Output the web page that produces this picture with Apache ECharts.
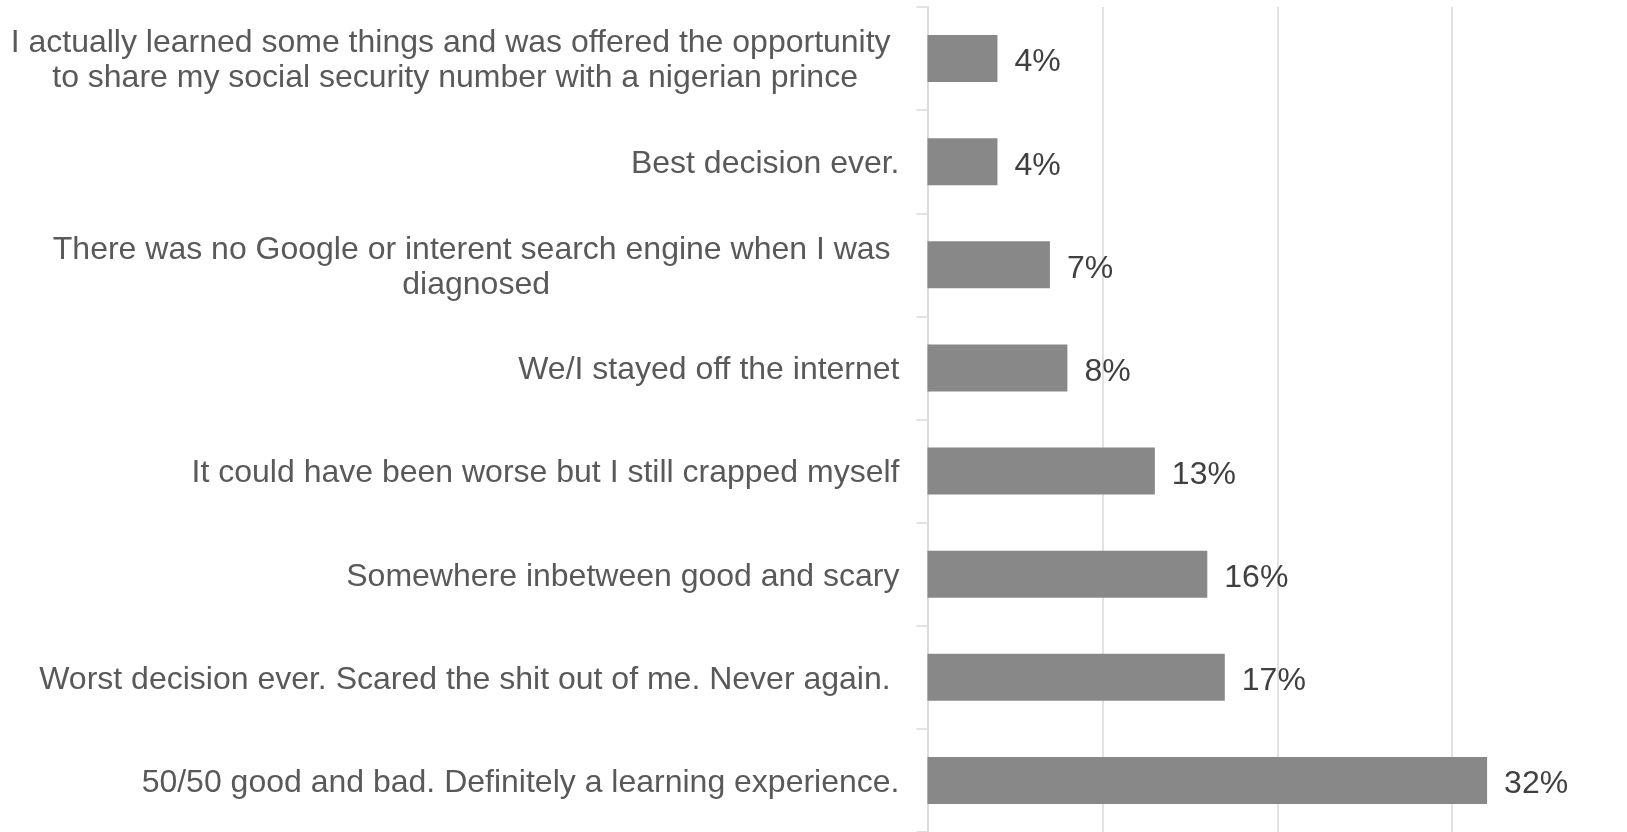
<!DOCTYPE html>
<html>
<head>
<meta charset="utf-8">
<script src="https://cdn.jsdelivr.net/npm/echarts@6/dist/echarts.min.js"></script>
<style>
  html, body { margin: 0; padding: 0; background: #ffffff; overflow: hidden; }
  #chart { width: 1627px; height: 832px; }
</style>
</head>
<body>
<div id="chart"></div>
<script>
// Survey answers, listed bottom-to-top as the category axis draws them
const categories = [
  '50/50 good and bad. Definitely a learning experience.',
  'Worst decision ever. Scared the shit out of me. Never again. ',
  'Somewhere inbetween good and scary',
  'It could have been worse but I still crapped myself',
  'We/I stayed off the internet',
  'There was no Google or interent search engine when I was \ndiagnosed',
  'Best decision ever.',
  'I actually learned some things and was offered the opportunity \nto share my social security number with a nigerian prince'
];

// Share of respondents, in percent
const shares = [32, 17, 16, 13, 8, 7, 4, 4];

// Value-axis ticks (percent)
const axisMin = 0;
const axisMax = 40;
const axisStep = 10;

const FONT = "'Liberation Sans', Arial, sans-serif";
const LABEL_SIZE = 32;

// Multi-line answers: every line is a centred rich-text token, so each
// wrapped line sits centred inside its own block.
const rich = { c: { align: 'center', fontSize: LABEL_SIZE, fontFamily: FONT, color: '#595959', lineHeight: 35 } };

function formatCategory(value) {
  const lines = value.split('\n');
  if (lines.length === 1) return value;
  return lines.map(l => '{c|' + l + '}').join('\n');
}

const chart = echarts.init(document.getElementById('chart'), null, { renderer: 'canvas' });

chart.setOption({
  animation: false,
  grid: { left: 927.5, top: 7, width: 704, height: 827, containLabel: false },
  xAxis: {
    type: 'value',
    min: axisMin,
    max: axisMax,
    interval: axisStep,
    axisLine: { show: false },
    axisTick: { show: false },
    axisLabel: { show: false },
    splitLine: { show: true, showMaxLine: false, lineStyle: { color: '#d9d9d9', width: 1.5 } }
  },
  yAxis: {
    type: 'category',
    data: categories,
    boundaryGap: true,
    axisLine: { show: true, lineStyle: { color: '#d9d9d9', width: 1.5 } },
    axisTick: { show: true, inside: false, length: 11, lineStyle: { color: '#d9d9d9', width: 1.5 } },
    axisLabel: {
      margin: 28,
      fontSize: LABEL_SIZE,
      fontFamily: FONT,
      color: '#595959',
      lineHeight: 35,
      align: 'right',
      padding: [5, 0, 0, 0],
      formatter: formatCategory,
      rich: rich
    }
  },
  series: [{
    type: 'bar',
    data: shares,
    barWidth: 47,
    itemStyle: { color: '#888888' },
    label: {
      show: true,
      position: 'right',
      distance: 17,
      offset: [0, 4],
      fontSize: LABEL_SIZE,
      fontFamily: FONT,
      color: '#404040',
      formatter: p => p.value + '%'
    }
  }]
});
</script>
</body>
</html>
